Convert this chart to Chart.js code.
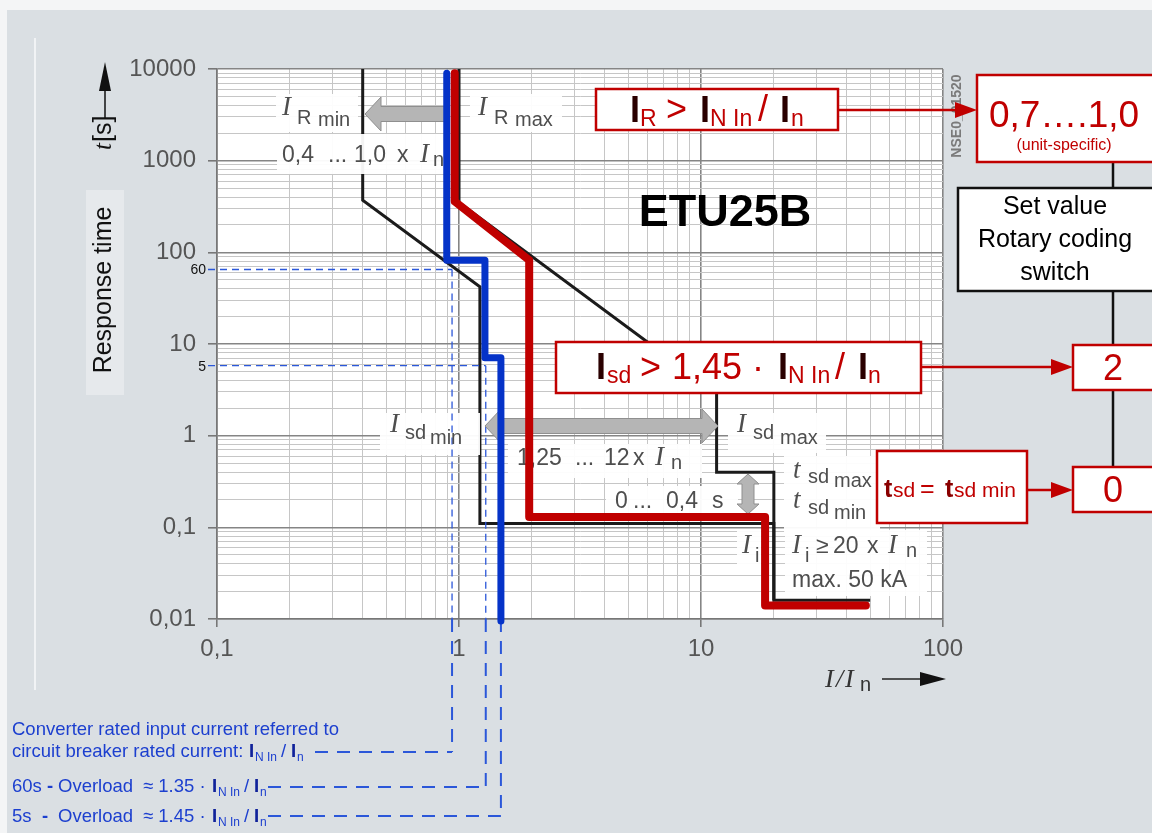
<!DOCTYPE html>
<html>
<head>
<meta charset="utf-8">
<title>ETU25B tripping characteristic</title>
<script src="https://cdn.jsdelivr.net/npm/chart.js@4.4.1/dist/chart.umd.min.js"></script>
<style>
html, body { margin: 0; padding: 0; background: #dadfe3; }
#wrap { position: relative; width: 1152px; height: 833px; }
</style>
</head>
<body>
<div id="wrap"><canvas id="myChart" width="1152" height="833"></canvas></div>
<script>
// tripping curves, I/In (x) against response time t[s] (y)
var blackLeftI = [0.4, 0.4, 1.22, 1.22, 20, 20, 50];
var blackLeftT = [10000, 370, 42, 0.11, 0.11, 0.016, 0.016];
var blackRightI = [1.0, 1.0, 11.6, 11.6, 20, 20];
var blackRightT = [10000, 350, 2.9, 0.4, 0.4, 0.016];
var redI = [0.96, 0.96, 1.95, 1.95, 18.4, 18.4, 48];
var redT = [9000, 360, 82, 0.13, 0.13, 0.014, 0.014];
var blueI = [0.89, 0.89, 1.28, 1.28, 1.49, 1.49];
var blueT = [9000, 82, 82, 7.1, 7.1, 0.0095];

// dashed guides: converter current, 60s overload, 5s overload
var guideI = [0.936, 1.29, 1.49];
var guideT = [65, 5.8];
var guideLabels = ['60', '5'];

var xMajor = [0.1, 1, 10, 100];
var xTickLabels = ['0,1', '1', '10', '100'];
var yMajor = [0.01, 0.1, 1, 10, 100, 1000, 10000];
var yTickLabels = ['0,01', '0,1', '1', '10', '100', '1000', '10000'];

var SANS = '"Liberation Sans", Arial, Helvetica, sans-serif';
var SERIF = '"Liberation Serif", "Times New Roman", serif';
var RED = '#c00000';
var GREY = '#4e4e4e';

function pts(xs, ys) {
  return xs.map(function (v, i) { return {x: v, y: ys[i]} })
}

function majorIndex(v, majors) {
  for (var i = 0; i < majors.length; i++) {
    if (Math.abs(v / majors[i] - 1) < 1e-6) return i
  }
  return -1
}

function logGrid(min, max) {
  var out = []
  for (var e = Math.round(Math.log10(min)); e < Math.round(Math.log10(max)); e++) {
    for (var k = 1; k < 10; k++) out.push({value: +(k * Math.pow(10, e)).toPrecision(3)})
  }
  out.push({value: max})
  return out
}

function txt(c, s, x, y, font, color, align) {
  c.font = font
  c.fillStyle = color
  c.textAlign = align || 'left'
  c.fillText(s, x, y)
}

function line(c, x1, y1, x2, y2) {
  c.beginPath(); c.moveTo(x1, y1); c.lineTo(x2, y2); c.stroke()
}

// grey block arrow, horizontal; heads: 'l', 'r' or 'lr'
function hArrow(c, x1, x2, y, heads) {
  var sh = 7.5, hh = 17, hl = 16
  var l = heads.indexOf('l') >= 0, r = heads.indexOf('r') >= 0
  c.beginPath()
  if (l) { c.moveTo(x1, y); c.lineTo(x1 + hl, y - hh); c.lineTo(x1 + hl, y - sh) } else { c.moveTo(x1, y - sh) }
  if (r) { c.lineTo(x2 - hl, y - sh); c.lineTo(x2 - hl, y - hh); c.lineTo(x2, y); c.lineTo(x2 - hl, y + hh); c.lineTo(x2 - hl, y + sh) } else { c.lineTo(x2, y - sh); c.lineTo(x2, y + sh) }
  if (l) { c.lineTo(x1 + hl, y + sh); c.lineTo(x1 + hl, y + hh) } else { c.lineTo(x1, y + sh) }
  c.closePath()
  c.fillStyle = '#b5b5b5'; c.fill()
  c.strokeStyle = '#8f8f8f'; c.lineWidth = 1; c.stroke()
}

function vArrow(c, x, y1, y2) {
  var sw = 6, hw = 11, hl = 10
  c.beginPath()
  c.moveTo(x, y1); c.lineTo(x + hw, y1 + hl); c.lineTo(x + sw, y1 + hl); c.lineTo(x + sw, y2 - hl)
  c.lineTo(x + hw, y2 - hl); c.lineTo(x, y2); c.lineTo(x - hw, y2 - hl); c.lineTo(x - sw, y2 - hl)
  c.lineTo(x - sw, y1 + hl); c.lineTo(x - hw, y1 + hl); c.closePath()
  c.fillStyle = '#b5b5b5'; c.fill()
  c.strokeStyle = '#8f8f8f'; c.lineWidth = 1; c.stroke()
}

function drawPlotNotes(chart) {
  var c = chart.ctx, xs = chart.scales.x, ys = chart.scales.y
  var a = chart.chartArea
  c.save()
  c.fillStyle = 'rgba(255,255,255,0.95)';
  [[276, 94, 82, 38], [470, 94, 92, 38], [277, 134, 180, 40], [380, 413, 100, 42], [508, 444, 194, 34],
   [728, 413, 98, 40], [784, 456, 96, 80], [606, 486, 132, 30], [737, 530, 24, 38], [785, 530, 142, 66]
  ].forEach(function (r) { c.fillRect(r[0], r[1], r[2], r[3]) })

  // dashed guides from the blue curve
  var gx = guideI.map(function (v) { return xs.getPixelForValue(v) })
  var gy = guideT.map(function (v) { return ys.getPixelForValue(v) })
  var gTop = [gy[0], gy[1], ys.getPixelForValue(blueT[4])]
  var gBottom = [752, 787, 816]
  c.strokeStyle = '#2b57d9'; c.lineWidth = 1.3; c.setLineDash([7, 5])
  line(c, 208, gy[0], gx[0], gy[0])
  line(c, 208, gy[1], gx[1], gy[1])
  for (var i = 0; i < 3; i++) line(c, gx[i], gTop[i], gx[i], a.bottom)
  c.lineWidth = 2; c.setLineDash([13, 9])
  for (i = 0; i < 3; i++) line(c, gx[i], a.bottom, gx[i], gBottom[i])
  line(c, 315, 752, gx[0], 752)
  line(c, 268, 787, gx[1], 787)
  line(c, 268, 816, gx[2], 816)
  c.setLineDash([])
  txt(c, guideLabels[0], 206, gy[0] + 5, '14px ' + SANS, '#111', 'right')
  txt(c, guideLabels[1], 206, gy[1] + 5, '14px ' + SANS, '#111', 'right')

  // grey range arrows
  hArrow(c, 365, 445, 114, 'l')
  hArrow(c, 485, 718, 426, 'lr')
  vArrow(c, 748, 474, 514)

  var I = 'italic 27px ' + SERIF, S = '20px ' + SANS, N = '23px ' + SANS
  txt(c, 'I', 282, 115, I, GREY); txt(c, 'R', 297, 124, S, GREY); txt(c, 'min', 318, 126, S, GREY)
  txt(c, 'I', 478, 115, I, GREY); txt(c, 'R', 494, 124, S, GREY); txt(c, 'max', 515, 126, S, GREY)
  txt(c, '0,4', 282, 162, N, GREY); txt(c, '...', 328, 162, N, GREY); txt(c, '1,0', 354, 162, N, GREY)
  txt(c, 'x', 397, 162, N, GREY); txt(c, 'I', 420, 162, I, GREY); txt(c, 'n', 433, 166, S, GREY)
  txt(c, 'I', 390, 432, I, GREY); txt(c, 'sd', 405, 439, S, GREY); txt(c, 'min', 430, 444, S, GREY)
  txt(c, '1,25', 517, 465, N, GREY); txt(c, '...', 575, 465, N, GREY); txt(c, '12', 604, 465, N, GREY)
  txt(c, 'x', 633, 465, N, GREY); txt(c, 'I', 655, 465, I, GREY); txt(c, 'n', 671, 469, S, GREY)
  txt(c, 'I', 737, 432, I, GREY); txt(c, 'sd', 753, 439, S, GREY); txt(c, 'max', 780, 444, S, GREY)
  txt(c, 't', 793, 478, I, GREY); txt(c, 'sd', 808, 483, S, GREY); txt(c, 'max', 834, 487, S, GREY)
  txt(c, 't', 793, 508, I, GREY); txt(c, 'sd', 808, 514, S, GREY); txt(c, 'min', 834, 519, S, GREY)
  txt(c, '0', 615, 508, N, GREY); txt(c, '...', 633, 508, N, GREY); txt(c, '0,4', 666, 508, N, GREY)
  txt(c, 's', 712, 508, N, GREY)
  txt(c, 'I', 742, 553, I, GREY); txt(c, 'i', 755, 562, S, GREY)
  txt(c, 'I', 792, 553, I, GREY); txt(c, 'i', 805, 562, S, GREY); txt(c, '≥', 816, 553, N, GREY)
  txt(c, '20', 833, 553, N, GREY); txt(c, 'x', 867, 553, N, GREY); txt(c, 'I', 888, 553, I, GREY)
  txt(c, 'n', 906, 557, S, GREY)
  txt(c, 'max. 50 kA', 792, 587, N, GREY)

  txt(c, 'ETU25B', 725, 226, 'bold 45px ' + SANS, '#000', 'center')
  c.restore()
}

function box(c, x, y, w, h, stroke) {
  c.fillStyle = '#fff'; c.fillRect(x, y, w, h)
  c.strokeStyle = stroke; c.lineWidth = 2.5; c.strokeRect(x, y, w, h)
}

function arrowTo(c, x1, y, x2) {
  c.strokeStyle = RED; c.lineWidth = 2.5; line(c, x1, y, x2 - 12, y)
  c.fillStyle = RED
  c.beginPath(); c.moveTo(x2, y); c.lineTo(x2 - 22, y - 8); c.lineTo(x2 - 22, y + 8); c.closePath(); c.fill()
}

function drawBoxes(chart) {
  var c = chart.ctx
  c.save()
  var DI = 'bold 36px ' + SANS, M = '36px ' + SANS, SB = '23px ' + SANS

  // axis titles
  c.save()
  c.translate(111, 290); c.rotate(-Math.PI / 2)
  txt(c, 'Response time', 0, 0, '25px ' + SANS, '#111', 'center')
  txt(c, 't', 140, 0, 'italic 25px ' + SERIF, '#111')
  txt(c, '[s]', 148, 0, '25px ' + SANS, '#111')
  c.restore()
  c.strokeStyle = '#111'; c.lineWidth = 1.5; line(c, 105, 80, 105, 118)
  c.fillStyle = '#111'
  c.beginPath(); c.moveTo(105, 62); c.lineTo(99, 91); c.lineTo(111, 91); c.closePath(); c.fill()

  txt(c, 'I', 825, 687, 'italic 26px ' + SERIF, '#333'); txt(c, '/', 836, 687, 'italic 26px ' + SERIF, '#333')
  txt(c, 'I', 845, 687, 'italic 26px ' + SERIF, '#333'); txt(c, 'n', 860, 691, '20px ' + SANS, '#333')
  c.strokeStyle = '#222'; c.lineWidth = 1.5; line(c, 882, 679, 925, 679)
  c.fillStyle = '#111'
  c.beginPath(); c.moveTo(946, 679); c.lineTo(920, 672); c.lineTo(920, 686); c.closePath(); c.fill()

  c.save()
  c.translate(961, 116); c.rotate(-Math.PI / 2)
  txt(c, 'NSE0_01520', 0, 0, 'bold 14px ' + SANS, '#7a7a7a', 'center')
  c.restore()

  // setting chain on the right
  c.strokeStyle = '#111'; c.lineWidth = 2.5; line(c, 1113, 160, 1113, 470)
  box(c, 977, 75, 190, 87, RED)
  txt(c, '0,7….1,0', 1064, 127, '37px ' + SANS, RED, 'center')
  txt(c, '(unit-specific)', 1064, 150, '16px ' + SANS, RED, 'center')
  box(c, 958, 188, 210, 103, '#111')
  txt(c, 'Set value', 1055, 214, '25px ' + SANS, '#000', 'center')
  txt(c, 'Rotary coding', 1055, 247, '25px ' + SANS, '#000', 'center')
  txt(c, 'switch', 1055, 280, '25px ' + SANS, '#000', 'center')
  box(c, 1073, 345, 95, 45, RED)
  txt(c, '2', 1113, 380, M, RED, 'center')
  box(c, 1073, 467, 95, 45, RED)
  txt(c, '0', 1113, 502, M, RED, 'center')

  box(c, 596, 89, 242, 41, RED)
  txt(c, 'I', 630, 122, DI, '#2a0000'); txt(c, 'R', 640, 126, SB, RED); txt(c, '>', 666, 121, M, RED)
  txt(c, 'I', 700, 122, DI, '#2a0000'); txt(c, 'N In', 710, 126, SB, RED); txt(c, '/', 758, 121, M, RED)
  txt(c, 'I', 780, 122, DI, '#2a0000'); txt(c, 'n', 791, 126, SB, RED)
  arrowTo(c, 838, 110, 977)

  box(c, 556, 342, 365, 51, RED)
  txt(c, 'I', 596, 379, DI, '#2a0000'); txt(c, 'sd', 607, 383, SB, RED); txt(c, '>', 640, 379, M, RED)
  txt(c, '1,45', 672, 379, M, RED); txt(c, '·', 752, 379, M, RED)
  txt(c, 'I', 778, 379, DI, '#2a0000'); txt(c, 'N In', 788, 383, SB, RED); txt(c, '/', 835, 379, M, RED)
  txt(c, 'I', 858, 379, DI, '#2a0000'); txt(c, 'n', 868, 383, SB, RED)
  arrowTo(c, 921, 367, 1073)

  box(c, 877, 451, 150, 72, RED)
  txt(c, 't', 884, 497, 'bold 25px ' + SANS, '#8a0000'); txt(c, 'sd', 893, 497, '21px ' + SANS, RED)
  txt(c, '=', 920, 497, '25px ' + SANS, RED)
  txt(c, 't', 945, 497, 'bold 25px ' + SANS, '#8a0000'); txt(c, 'sd min', 954, 497, '21px ' + SANS, RED)
  arrowTo(c, 1027, 490, 1073)

  // notes under the chart
  var B = '#1c3fcf', F = '18.5px ' + SANS, FB = 'bold 18.5px ' + SANS, FS = '12px ' + SANS
  txt(c, 'Converter rated input current referred to', 12, 735, F, B)
  txt(c, 'circuit breaker rated current:', 12, 757, F, B)
  txt(c, 'I', 249, 757, FB, '#10229a'); txt(c, 'N In', 255, 761, FS, B)
  txt(c, '/', 281, 757, F, B); txt(c, 'I', 291, 757, FB, '#10229a'); txt(c, 'n', 297, 761, FS, B)
  var rows = [['60s', '1.35', 792], ['5s', '1.45', 822]]
  rows.forEach(function (r) {
    txt(c, r[0], 12, r[2], F, B)
    txt(c, '-', r[0] === '60s' ? 47 : 42, r[2], FB, B)
    txt(c, 'Overload', 58, r[2], F, B)
    txt(c, '≈ ' + r[1] + ' ·', 143, r[2], F, B)
    txt(c, 'I', 212, r[2], FB, '#10229a'); txt(c, 'N In', 218, r[2] + 4, FS, B)
    txt(c, '/', 244, r[2], F, B); txt(c, 'I', 254, r[2], FB, '#10229a')
    txt(c, 'n', 260, r[2] + 4, FS, B)
  })
  c.restore()
}

var overlay = {
  id: 'overlay',
  beforeDraw: function (chart) {
    var c = chart.ctx, a = chart.chartArea
    c.save()
    c.fillStyle = '#f4f5f6'; c.fillRect(0, 0, 1152, 833)
    c.fillStyle = '#dadfe3'; c.fillRect(7, 10, 1145, 823)
    c.fillStyle = '#f1f3f5'; c.fillRect(34, 38, 2, 652)
    c.fillStyle = '#e6e9ec'; c.fillRect(86, 190, 38, 205)
    c.fillStyle = '#ffffff'; c.fillRect(a.left, a.top, a.right - a.left, a.bottom - a.top)
    c.restore()
    chart.$notesDone = false
  },
  beforeDatasetDraw: function (chart, args) {
    if (chart.$notesDone) return
    if (chart.data.datasets[args.index].layer === 'band') return
    chart.$notesDone = true
    drawPlotNotes(chart)
  },
  afterDraw: function (chart) {
    drawBoxes(chart)
  }
}

function gridColor(majors) {
  return function (c) { return c.tick && majorIndex(c.tick.value, majors) >= 0 ? '#858585' : '#c6c6c6' }
}
function gridWidth(majors) {
  return function (c) { return c.tick && majorIndex(c.tick.value, majors) >= 0 ? 1.6 : 1 }
}
function tickColor(majors) {
  return function (c) { return c.tick && majorIndex(c.tick.value, majors) >= 0 ? '#777' : 'rgba(0,0,0,0)' }
}

var ctx = document.getElementById('myChart')
var myChart = new Chart(ctx, {
  type: 'scatter',
  data: {
    datasets: [
      {label: 'IR max band', layer: 'band', data: pts(blackRightI, blackRightT), borderColor: '#1b1b1b', borderWidth: 3, order: 3},
      {label: 'IR min band', layer: 'band', data: pts(blackLeftI, blackLeftT), borderColor: '#1b1b1b', borderWidth: 3, order: 3},
      {label: 'converter', data: pts(blueI, blueT), borderColor: '#0533c8', borderWidth: 7, order: 2, clip: false,
        borderCapStyle: 'round', borderJoinStyle: 'round'},
      {label: 'setting', data: pts(redI, redT), borderColor: RED, borderWidth: 8, order: 1, clip: false,
        borderCapStyle: 'round', borderJoinStyle: 'round'}
    ].map(function (d) {
      d.showLine = true; d.pointRadius = 0; d.fill = false; d.tension = 0
      return d
    })
  },
  options: {
    responsive: false,
    animation: false,
    events: [],
    layout: {padding: {left: 0, right: 209, top: 69, bottom: 0}},
    plugins: {legend: {display: false}, tooltip: {enabled: false}},
    scales: {
      x: {
        type: 'logarithmic', min: 0.1, max: 100, position: 'bottom',
        afterBuildTicks: function (s) { s.ticks = logGrid(0.1, 100) },
        afterFit: function (s) { s.height = 214 },
        grid: {color: gridColor(xMajor), lineWidth: gridWidth(xMajor), tickColor: tickColor(xMajor), tickLength: 8},
        border: {color: '#777', width: 1.6},
        ticks: {
          autoSkip: false, maxRotation: 0, minRotation: 0, padding: 8, color: '#555',
          font: {family: SANS, size: 24},
          callback: function (v) { var i = majorIndex(v, xMajor); return i < 0 ? '' : xTickLabels[i] }
        }
      },
      y: {
        type: 'logarithmic', min: 0.01, max: 10000,
        afterBuildTicks: function (s) { s.ticks = logGrid(0.01, 10000) },
        afterFit: function (s) { s.width = 217 },
        grid: {color: gridColor(yMajor), lineWidth: gridWidth(yMajor), tickColor: tickColor(yMajor), tickLength: 9},
        border: {color: '#777', width: 1.6},
        ticks: {
          autoSkip: false, padding: 12, color: '#555',
          font: {family: SANS, size: 24},
          callback: function (v) { var i = majorIndex(v, yMajor); return i < 0 ? '' : yTickLabels[i] }
        }
      }
    }
  },
  plugins: [overlay]
})
</script>
</body>
</html>
